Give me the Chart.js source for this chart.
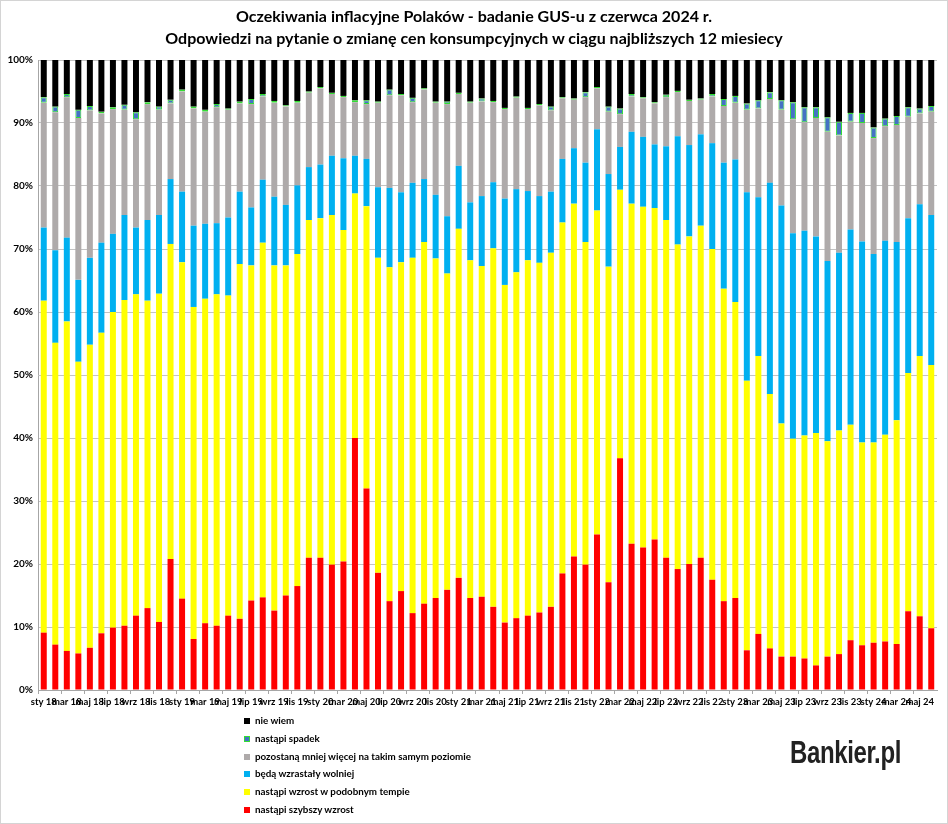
<!DOCTYPE html>
<html>
<head>
<meta charset="utf-8">
<script src="https://cdn.jsdelivr.net/npm/chart.js@4.4.1/dist/chart.umd.min.js"></script>
<style>
  body { margin: 0; background: #fff; }
  #wrap { position: relative; width: 948px; height: 824px; overflow: hidden; font-family: Lato, "Liberation Sans", sans-serif; }
  #frame { position: absolute; left: 0; top: 0; width: 948px; height: 824px; box-sizing: border-box; border: 1px solid #d4d4d4; pointer-events: none; }
  canvas { position: absolute; left: 0; top: 0; }
  .title { position: absolute; left: 0; width: 948px; text-align: center; font-weight: bold; font-size: 16px; color: #000; }
  #legend { position: absolute; left: 244px; top: 712px; font-size: 9.8px; font-weight: bold; color: #000; }
  #legend div { height: 17.8px; line-height: 17.8px; white-space: nowrap; }
  #legend span { display: inline-block; width: 6px; height: 6px; margin-right: 5px; vertical-align: 0px; box-sizing: border-box; }
  #logo { position: absolute; left: 790px; top: 734px; font-family: "Liberation Sans", sans-serif; font-weight: bold; font-size: 32px; color: #222; transform: scaleX(0.75); transform-origin: left top; letter-spacing: -0.5px; }
</style>
</head>
<body>
<div id="wrap">
  <canvas id="myChart" width="948" height="824"></canvas>
  <div class="title" style="top:6px">Oczekiwania inflacyjne Polaków - badanie GUS-u z czerwca 2024 r.</div>
  <div class="title" style="top:28px">Odpowiedzi na pytanie o zmianę cen konsumpcyjnych w ciągu najbliższych 12 miesiecy</div>
  <div id="legend"></div>
  <div id="logo">Bankier.pl</div>
  <div id="frame"></div>
</div>
<script>
// miesiace sty 2018 - cze 2024
const months = ['sty', 'lut', 'mar', 'kwi', 'maj', 'cze', 'lip', 'sie', 'wrz', 'paź', 'lis', 'gru'];
const years = ['18', '19', '20', '21', '22', '23', '24'];
const categories = [];
years.forEach(y => months.forEach(m => categories.push(m + ' ' + y)));
categories.length = 78;

const szybszy = [9.1, 7.2, 6.2, 5.8, 6.7, 9.0, 9.9, 10.2, 11.8, 13.0, 10.8, 20.8,
  14.5, 8.1, 10.6, 10.2, 11.8, 11.3, 14.2, 14.7, 12.6, 15.0, 16.5, 21.0,
  21.0, 19.9, 20.4, 40.0, 32.0, 18.6, 14.1, 15.7, 12.2, 13.7, 14.6, 15.9,
  17.8, 14.6, 14.8, 13.2, 10.7, 11.4, 11.8, 12.3, 13.2, 18.5, 21.2, 19.9,
  24.7, 17.1, 36.8, 23.2, 22.6, 23.9, 21.0, 19.2, 20.0, 21.0, 17.5, 14.1,
  14.6, 6.3, 8.9, 6.6, 5.3, 5.3, 5.0, 3.9, 5.3, 5.7, 7.9, 7.1,
  7.5, 7.7, 7.3, 12.5, 11.7, 9.8];
const podobny = [52.7, 47.9, 52.3, 46.3, 48.1, 47.7, 50.1, 51.7, 51.0, 48.8, 52.1, 50.0,
  53.4, 52.7, 51.5, 52.6, 50.8, 56.3, 53.2, 56.3, 54.8, 52.4, 52.7, 53.6,
  53.9, 55.5, 52.6, 38.8, 44.8, 50.0, 53.0, 52.2, 56.4, 57.4, 53.9, 50.2,
  55.4, 53.6, 52.5, 56.9, 53.6, 54.9, 56.4, 55.5, 56.2, 55.7, 56.0, 51.2,
  51.4, 50.1, 42.6, 54.0, 54.1, 52.6, 53.6, 51.5, 52.0, 52.7, 52.5, 49.6,
  47.0, 42.8, 44.1, 40.4, 37.0, 34.6, 35.4, 36.9, 34.2, 35.5, 34.2, 32.2,
  31.8, 32.8, 35.5, 37.8, 41.3, 41.8];
const wolniej = [11.6, 14.7, 13.3, 13.0, 13.8, 14.3, 12.4, 13.5, 10.6, 12.8, 12.5, 10.3,
  11.2, 12.9, 11.9, 11.3, 12.4, 11.5, 9.2, 10.0, 10.9, 9.6, 10.9, 8.4,
  8.5, 9.4, 11.4, 6.0, 7.5, 11.2, 12.6, 11.1, 11.9, 10.0, 10.1, 9.1,
  10.0, 9.2, 11.1, 10.5, 13.7, 13.2, 11.0, 10.6, 9.7, 10.1, 8.8, 12.6,
  12.9, 14.7, 6.8, 11.4, 11.1, 10.1, 11.7, 17.2, 14.5, 14.5, 16.8, 20.0,
  22.6, 29.9, 25.2, 33.5, 34.6, 32.6, 32.5, 31.2, 28.6, 28.2, 31.0, 31.9,
  29.9, 30.8, 28.3, 24.6, 24.1, 23.8];
const takiSam = [19.8, 21.9, 22.3, 25.7, 23.4, 20.5, 19.8, 16.7, 17.2, 18.4, 16.7, 12.0,
  15.9, 18.6, 17.8, 18.4, 17.1, 14.0, 16.4, 13.2, 14.9, 15.6, 13.1, 11.8,
  12.1, 9.8, 9.7, 8.5, 8.7, 13.4, 14.7, 15.4, 12.8, 14.2, 14.6, 17.8,
  11.4, 15.8, 15.0, 12.7, 14.2, 14.5, 13.0, 14.4, 12.9, 9.6, 7.7, 10.4,
  6.5, 9.9, 5.2, 5.6, 6.1, 6.5, 7.8, 7.0, 7.0, 5.5, 7.4, 9.0,
  9.0, 13.1, 14.1, 13.3, 15.2, 18.1, 17.2, 18.8, 20.5, 18.6, 17.1, 18.8,
  18.4, 18.2, 18.6, 16.1, 14.4, 16.4];
const spadek = [0.9, 0.9, 0.5, 1.3, 0.7, 0.3, 0.3, 0.8, 1.1, 0.3, 0.5, 0.6,
  0.3, 0.3, 0.3, 0.5, 0.2, 0.3, 0.8, 0.4, 0.3, 0.2, 0.3, 0.2,
  0.2, 0.2, 0.2, 0.3, 0.6, 0.2, 0.9, 0.2, 0.7, 0.2, 0.2, 0.4,
  0.2, 0.2, 0.5, 0.2, 0.2, 0.2, 0.2, 0.2, 0.6, 0.2, 0.2, 0.8,
  0.2, 0.8, 0.9, 0.4, 0.2, 0.2, 0.4, 0.2, 0.2, 0.2, 0.4, 1.1,
  1.1, 1.0, 1.3, 1.1, 1.5, 2.7, 2.4, 1.7, 2.3, 2.2, 1.4, 1.6,
  1.7, 1.2, 1.4, 1.5, 0.8, 0.9];
const nieWiem = [5.9, 7.4, 5.4, 7.9, 7.3, 8.2, 7.5, 7.1, 8.3, 6.7, 7.4, 6.3,
  4.7, 7.4, 7.9, 7.0, 7.7, 6.6, 6.2, 5.4, 6.5, 7.2, 6.5, 5.0,
  4.3, 5.2, 5.7, 6.4, 6.4, 6.6, 4.7, 5.4, 6.0, 4.5, 6.6, 6.6,
  5.2, 6.6, 6.1, 6.5, 7.6, 5.8, 7.6, 7.0, 7.4, 5.9, 6.1, 5.1,
  4.3, 7.4, 7.7, 5.4, 5.9, 6.7, 5.5, 4.9, 6.3, 6.1, 5.4, 6.2,
  5.7, 6.9, 6.4, 5.1, 6.4, 6.7, 7.5, 7.5, 9.1, 9.8, 8.4, 8.4,
  10.7, 9.3, 8.9, 7.5, 7.7, 7.3];

const yTicks = [0, 10, 20, 30, 40, 50, 60, 70, 80, 90, 100];

const font = 'Lato, "Liberation Sans", sans-serif';

const series = [
  { label: 'nastąpi szybszy wzrost', data: szybszy, backgroundColor: '#ff0000' },
  { label: 'nastąpi wzrost w podobnym tempie', data: podobny, backgroundColor: '#ffff00' },
  { label: 'będą wzrastały wolniej', data: wolniej, backgroundColor: '#00b0f0' },
  { label: 'pozostaną mniej więcej na takim samym poziomie', data: takiSam, backgroundColor: '#aeaaaa' },
  { label: 'nastąpi spadek', data: spadek, backgroundColor: '#4472c4', borderColor: '#33dd33', borderWidth: 1, borderSkipped: false },
  { label: 'nie wiem', data: nieWiem, backgroundColor: '#000000' },
];

// legenda w odwrotnej kolejnosci, jak w oryginale
const legend = document.getElementById('legend');
series.slice().reverse().forEach(s => {
  const row = document.createElement('div');
  const sw = document.createElement('span');
  sw.style.background = s.backgroundColor;
  if (s.borderColor) sw.style.border = '1px solid ' + s.borderColor;
  row.appendChild(sw);
  row.appendChild(document.createTextNode(s.label));
  legend.appendChild(row);
});

const ctx = document.getElementById('myChart').getContext('2d');
new Chart(ctx, {
  type: 'bar',
  data: { labels: categories, datasets: series },
  options: {
    responsive: false,
    animation: false,
    layout: { padding: { left: 4, right: 11, top: 60, bottom: 114 } },
    datasets: { bar: { barPercentage: 0.52, categoryPercentage: 1 } },
    plugins: { legend: { display: false }, tooltip: { enabled: false } },
    scales: {
      x: {
        stacked: true,
        grid: {
          offset: true,
          drawOnChartArea: false,
          tickLength: 4,
          color: c => (c.index % 2 === 0 ? '#a6a6a6' : 'rgba(0,0,0,0)')
        },
        border: { color: '#a6a6a6' },
        ticks: {
          autoSkip: false, maxRotation: 0, minRotation: 0, padding: 2,
          color: '#000', font: { family: font, size: 9.5, weight: 'bold' },
          callback: (v, i) => (i % 2 === 0 ? categories[i] : '')
        },
        afterFit: s => { s.height = 20; }
      },
      y: {
        stacked: true,
        min: 0, max: 100,
        afterBuildTicks: s => { s.ticks = yTicks.map(v => ({ value: v })); },
        grid: { color: '#c3c3c3', drawTicks: false },
        border: { color: '#a6a6a6' },
        ticks: {
          padding: 5, color: '#000',
          font: { family: font, size: 10, weight: 'bold' },
          callback: v => v + '%'
        },
        afterFit: s => { s.width = 34; }
      }
    }
  }
});
</script>
</body>
</html>
